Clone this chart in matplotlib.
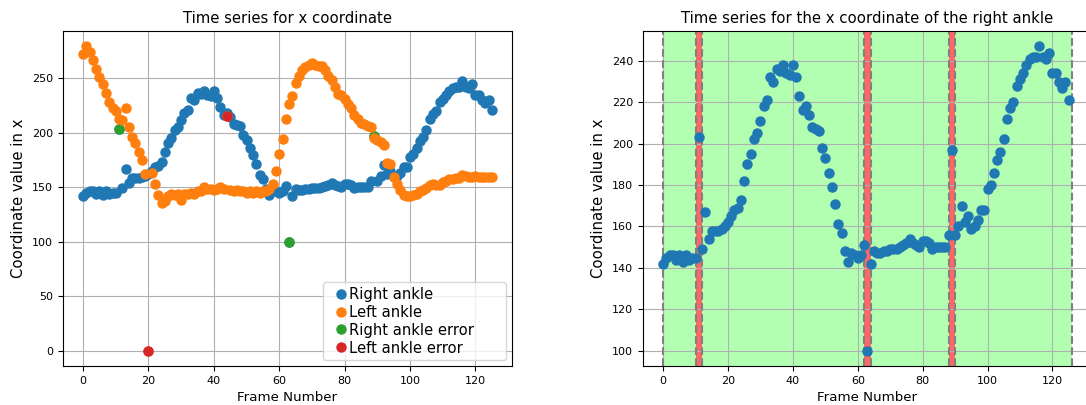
import matplotlib
matplotlib.use("Agg")
import matplotlib.pyplot as plt

# x coordinate per frame
right_ankle = [
    142, 145, 146, 146, 144, 146, 143, 146, 144, 145,
    145, 203, 149, 167, 154, 158, 158, 158, 159, 160,
    162, 165, 168, 169, 173, 182, 190, 195, 202, 205,
    211, 218, 221, 232, 230, 236, 235, 238, 234, 233,
    238, 232, 223, 216, 218, 214, 208, 207, 206, 198,
    193, 186, 179, 171, 161, 157, 148, 143, 147, 146,
    145, 146, 151, 100, 142, 148, 147, 147, 148, 148,
    149, 149, 149, 150, 151, 152, 154, 152, 151, 150,
    153, 153, 152, 149, 150, 150, 150, 150, 156, 197,
    156, 160, 170, 162, 165, 159, 160, 163, 168, 168,
    178, 180, 186, 192, 196, 202, 212, 217, 220, 228,
    231, 234, 238, 241, 242, 242, 247, 242, 241, 244,
    234, 234, 230, 227, 230, 221,
]
left_ankle = [
    272, 279, 274, 266, 258, 251, 244, 236, 228, 222,
    220, 212, 211, 222, 205, 196, 190, 182, 175, 162,
    0, 163, 153, 143, 135, 137, 142, 144, 143, 144,
    138, 144, 144, 145, 144, 146, 146, 150, 148, 148,
    147, 148, 150, 148, 215, 147, 146, 147, 146, 146,
    145, 146, 145, 146, 145, 146, 146, 148, 153, 165,
    180, 194, 212, 226, 233, 245, 252, 257, 260, 262,
    264, 262, 261, 261, 257, 252, 248, 242, 235, 234,
    231, 226, 222, 216, 212, 209, 208, 206, 205, 195,
    193, 191, 189, 172, 171, 159, 153, 147, 143, 142,
    142, 143, 144, 146, 147, 149, 152, 153, 152, 152,
    155, 156, 157, 157, 158, 158, 161, 160, 159, 159,
    160, 159, 159, 159, 159, 159,
]
frames = list(range(len(right_ankle)))

right_err_frames = [11, 63, 89]
left_err_frames = [20, 44]

TICK = 8
LAB = 10.7
MS = 6.5

fig = plt.figure(figsize=(10.86, 4.05), dpi=100)
ax1 = fig.add_axes([0.0577, 0.0963, 0.414, 0.827])
ax2 = fig.add_axes([0.5918, 0.0963, 0.414, 0.827])

# left: both ankles + errors
ax1.plot(frames, right_ankle, "o", markersize=MS, label="Right ankle", zorder=2)
ax1.plot(frames, left_ankle, "o", markersize=MS, label="Left ankle", zorder=2.2)
ax1.plot(right_err_frames, [right_ankle[f] for f in right_err_frames], "o",
         markersize=MS, label="Right ankle error", zorder=2.1)
ax1.plot(left_err_frames, [left_ankle[f] for f in left_err_frames], "o",
         markersize=MS, label="Left ankle error", zorder=2.3)
ax1.set_title("Time series for x coordinate", fontsize=LAB)
ax1.set_xlabel("Frame Number", fontsize=9.6)
ax1.set_ylabel("Coordinate value in x", fontsize=LAB)
ax1.grid(True)
ax1.legend(loc="lower right", bbox_to_anchor=(0.579, 0.018, 0.407, 0.3),
           mode="expand", borderaxespad=0, fontsize=10.6,
           handlelength=1.85, handletextpad=-0.35,
           borderpad=0.3, labelspacing=0.2)
ax1.tick_params(labelsize=TICK)

# right: right ankle with good/bad segments
n = len(right_ankle)
bounds = [0]
for f in right_err_frames:
    bounds += [f - 1, f + 1]
bounds.append(n)
for i in range(0, len(bounds), 2):
    ax2.axvspan(bounds[i], bounds[i + 1], color="lime", alpha=0.3, lw=0)
for f in right_err_frames:
    ax2.axvspan(f - 1, f + 1, color="red", alpha=0.6, lw=0)
for b in bounds:
    ax2.axvline(b, color="gray", linestyle="--", linewidth=1.5)
ax2.plot(frames, right_ankle, "o", markersize=MS, color="tab:blue")
ax2.set_title("Time series for the x coordinate of the right ankle", fontsize=LAB)
ax2.set_xlabel("Frame Number", fontsize=9.6)
ax2.set_ylabel("Coordinate value in x", fontsize=LAB)
ax2.grid(True)
ax2.tick_params(labelsize=TICK)

fig.savefig("out.png", dpi=100)
